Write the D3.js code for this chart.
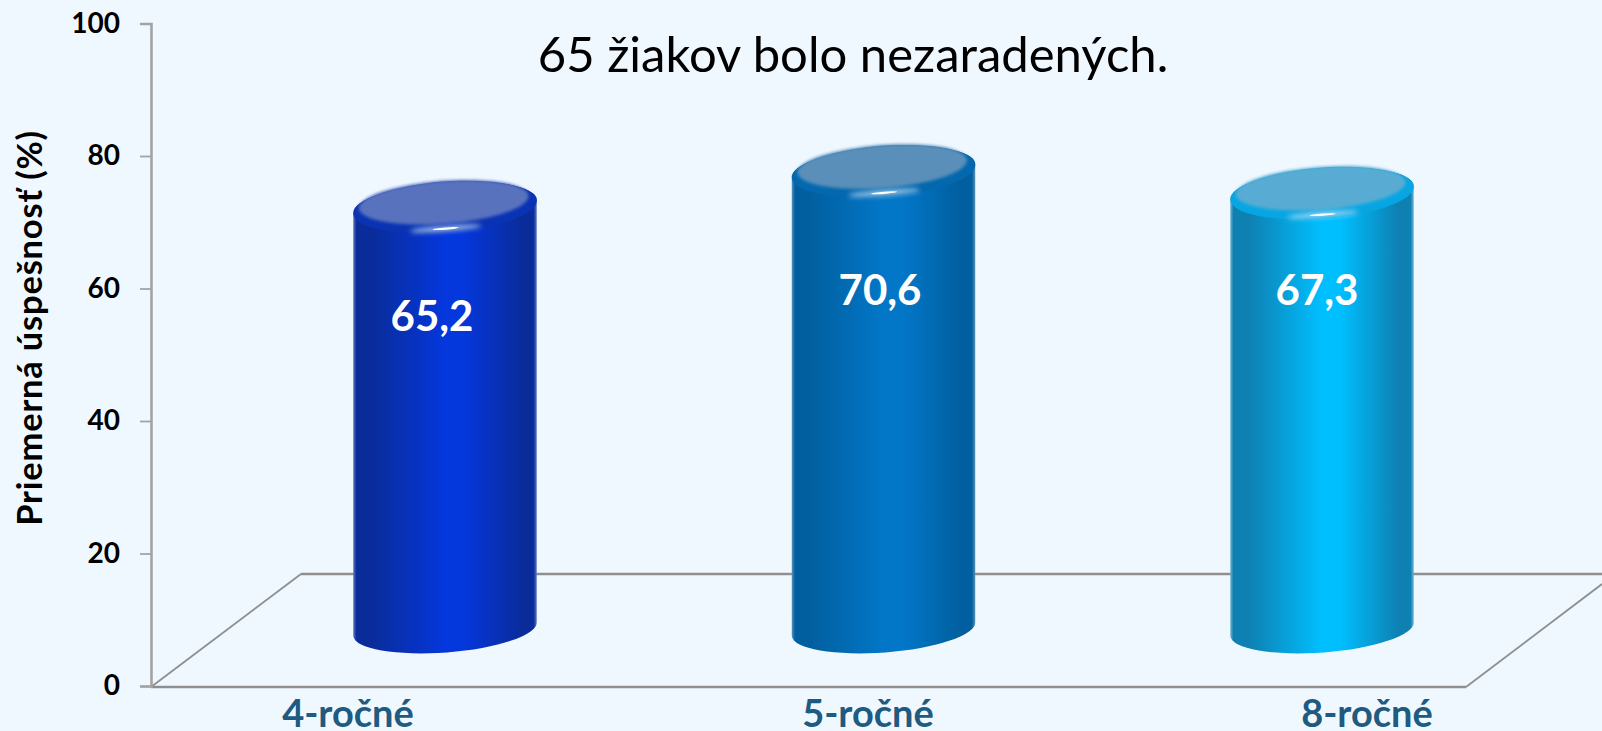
<!DOCTYPE html>
<html><head><meta charset="utf-8">
<script src="https://cdn.jsdelivr.net/npm/d3@7/dist/d3.min.js"></script>
<style>html,body{margin:0;padding:0;background:#f0f8ff;overflow:hidden}svg{display:block}text{font-family:Lato,"Noto Sans",sans-serif}</style>
</head><body><svg id="c" width="1602" height="731"></svg>
<script>
const categories = ["4-ročné","5-ročné","8-ročné"];
const values = [65.2,70.6,67.3];
const valueLabels = ["65,2","70,6","67,3"];
const yTicks = [0,20,40,60,80,100];
const title = "65 žiakov bolo nezaradených.";
const yTitle = "Priemerná úspešnosť (%)";
const sideStops = [["#5a74c0","#0a2c9a","#0437dc"],["#5a92bc","#015f9f","#0277c8"],["#6cb4d2","#0e80b2","#00bfff"]];
const capColors = ["#5872bd","#5a8fb9","#58acd3"];
const rimColors = ["#0a33b4","#0368ae","#07a6e2"];

const svg = d3.select("#c");
const y = d3.scaleLinear().domain([0,100]).range([686,23.5]);
const x = d3.scalePoint().domain(categories).range([445,1322]);
const catX = d3.scaleOrdinal().domain(categories).range([348,868,1367]);
const lblX = d3.scaleOrdinal().domain(categories).range([432,880,1317]);
const lblY = d3.scaleOrdinal().domain(categories).range([331,305,305]);
const depthTop = 48, depthBase = 57, rx = 92, ry = 23.5, rot = -4.3;
const defs = svg.append("defs");
defs.append("filter").attr("id","b3").attr("x","-30%").attr("y","-150%").attr("width","160%").attr("height","400%")
  .append("feGaussianBlur").attr("stdDeviation",2.4);
defs.append("filter").attr("id","b1").attr("x","-10%").attr("y","-30%").attr("width","120%").attr("height","160%")
  .append("feGaussianBlur").attr("stdDeviation",1.6);

// floor
const floor = svg.append("g").attr("fill","none").attr("stroke","#8f8f8f");
floor.append("path").attr("stroke-width",2.4).attr("d",d3.line()([[301,y(0)-112],[1602,y(0)-112]]));
floor.append("path").attr("stroke-width",1.8).attr("d",d3.line()([[151,y(0)+1],[301,y(0)-112]]));
floor.append("path").attr("stroke-width",2.4).attr("d",d3.line()([[151,y(0)+1],[1466,y(0)+1]]));
floor.append("path").attr("stroke-width",1.8).attr("d",d3.line()([[1466,y(0)+1],[1602,y(0)-102]]));

// axis
const ax = svg.append("g").attr("transform","translate(151,0)")
  .call(d3.axisLeft(y).tickValues(yTicks).tickSize(11).tickSizeOuter(11).tickPadding(20).tickFormat(d3.format("d")));
ax.select(".domain").attr("stroke","#a3a3a3").attr("stroke-width",2.6);
ax.selectAll(".tick line").attr("stroke","#a3a3a3").attr("stroke-width",1.8);
ax.selectAll("text").attr("fill","#000").attr("font-size",28).attr("font-weight",700);

svg.append("text").attr("transform","translate(42,328) rotate(-90)").attr("text-anchor","middle")
  .attr("font-size",34.5).attr("letter-spacing",0.8).attr("font-weight",700).attr("fill","#000").text(yTitle);
svg.append("text").attr("x",853).attr("y",72).attr("text-anchor","middle").attr("font-size",49).attr("fill","#000").text(title);

// bars
categories.forEach((c,i)=>{
  const cx = x(c), base = y(0)-depthBase, top = y(values[i])-depthTop;
  const dx = rx*Math.cos(rot*Math.PI/180), dy = 7;
  const g = defs.append("linearGradient").attr("id","g"+i).attr("x1",0).attr("x2",1).attr("y1",0).attr("y2",0);
  [[0,0],[0.018,1],[0.1,1],[0.5,2],[0.6,2],[0.92,1],[0.982,1],[1,0]].forEach(s=>
    g.append("stop").attr("offset",s[0]).attr("stop-color",sideStops[i][s[1]]));
  const bar = svg.append("g");
  bar.append("path").attr("fill",`url(#g${i})`)
    .attr("d",`M${cx-dx},${top+dy} L${cx-dx},${base+dy} A${rx},${ry} ${rot} 0 0 ${cx+dx},${base-dy} L${cx+dx},${top-dy} A${rx},${ry} ${rot} 0 0 ${cx-dx},${top+dy}Z`);
  const cap = `rotate(${rot} ${cx} ${top})`;
  bar.append("ellipse").attr("cx",cx).attr("cy",top+1).attr("rx",rx).attr("ry",ry+2).attr("transform",cap).attr("fill",rimColors[i]);
  bar.append("ellipse").attr("cx",cx-1).attr("cy",top-4).attr("rx",rx-7).attr("ry",ry-2).attr("transform",cap).attr("fill",capColors[i]).attr("filter","url(#b1)");
  bar.append("ellipse").attr("cx",cx-1).attr("cy",top+ry-1).attr("rx",36).attr("ry",2.4).attr("transform",cap).attr("fill","#cfe9ff").attr("opacity",.85).attr("filter","url(#b3)");
  bar.append("ellipse").attr("cx",cx-1).attr("cy",top+ry-1).attr("rx",13).attr("ry",1.1).attr("transform",cap).attr("fill","#fff");
  svg.append("text").attr("x",lblX(c)).attr("y",lblY(c)).attr("text-anchor","middle").attr("font-size",42).attr("font-weight",700).attr("fill","#fff").text(valueLabels[i]);
  svg.append("text").attr("x",catX(c)).attr("y",727).attr("text-anchor","middle").attr("font-size",38).attr("font-weight",700).attr("fill","#1f5a80").text(c);
});
</script></body></html>
